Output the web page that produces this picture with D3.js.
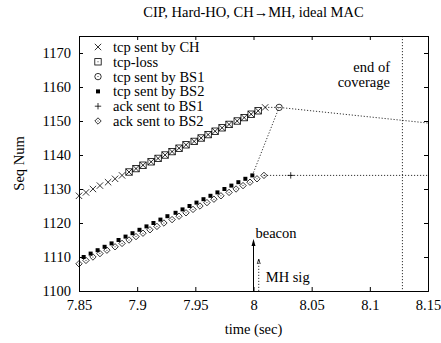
<!DOCTYPE html>
<html>
<head>
<meta charset="utf-8">
<script src="https://cdn.jsdelivr.net/npm/d3@7"></script>
<style>
  body { margin: 0; background: #fff; }
  svg text { font-family: "Liberation Serif", "DejaVu Serif", serif; font-size: 14.5px; fill: #000; }
</style>
</head>
<body>
<div id="chart"></div>
<script>
/* globals d3 */

// series: time (sec) and sequence number
var chTime = [7.850, 7.856, 7.862, 7.868, 7.875, 7.881, 7.887, 7.893, 7.899, 7.905, 7.912, 7.918, 7.924, 7.930,
  7.936, 7.942, 7.949, 7.955, 7.961, 7.967, 7.973, 7.979, 7.986, 7.992, 7.998, 8.004, 8.010];
var chSeq = [1128, 1129, 1130, 1131, 1132, 1133, 1134, 1135, 1136, 1137, 1138, 1139, 1140, 1141,
  1142, 1143, 1144, 1145, 1146, 1147, 1148, 1149, 1150, 1151, 1152, 1153, 1154];

var lossTime = [7.893, 7.899, 7.905, 7.912, 7.918, 7.924, 7.930, 7.936, 7.942, 7.949, 7.955, 7.961, 7.967,
  7.973, 7.979, 7.986, 7.992, 7.998, 8.004];
var lossSeq = [1135, 1136, 1137, 1138, 1139, 1140, 1141, 1142, 1143, 1144, 1145, 1146, 1147,
  1148, 1149, 1150, 1151, 1152, 1153];

var bs1Time = [8.022];
var bs1Seq = [1154];

var bs2Time = [7.854, 7.860, 7.866, 7.872, 7.878, 7.884, 7.890, 7.896, 7.902, 7.908, 7.914, 7.920, 7.926,
  7.933, 7.939, 7.945, 7.951, 7.957, 7.963, 7.969, 7.975, 7.981, 7.987, 7.993, 7.999];
var bs2Seq = [1110, 1111, 1112, 1113, 1114, 1115, 1116, 1117, 1118, 1119, 1120, 1121, 1122,
  1123, 1124, 1125, 1126, 1127, 1128, 1129, 1130, 1131, 1132, 1133, 1134];

var ackBs1Time = [8.032];
var ackBs1Seq = [1134];

var ackBs2Time = [7.850, 7.856, 7.862, 7.868, 7.874, 7.881, 7.887, 7.893, 7.899, 7.905, 7.911, 7.917, 7.923,
  7.930, 7.936, 7.942, 7.948, 7.954, 7.960, 7.966, 7.972, 7.979, 7.985, 7.991, 7.997, 8.003, 8.009];
var ackBs2Seq = [1108, 1109, 1110, 1111, 1112, 1113, 1114, 1115, 1116, 1117, 1118, 1119, 1120,
  1121, 1122, 1123, 1124, 1125, 1126, 1127, 1128, 1129, 1130, 1131, 1132, 1133, 1134];

// dotted connector paths
var linkBs2Bs1 = [[7.999, 1134], [8.022, 1154]];
var linkBs1 = [[8.010, 1154], [8.022, 1154], [8.15, 1149.4]];
var linkAck = [[8.009, 1134], [8.032, 1134], [8.15, 1134]];

var endOfCoverage = 8.128;
var beacon = { t: 8.0, seq: 1115.3 };
var mhSig = { t: 8.0045, seq: 1109.4 };

var xTicks = [7.85, 7.9, 7.95, 8, 8.05, 8.1, 8.15];
var yTicks = [1100, 1110, 1120, 1130, 1140, 1150, 1160, 1170];

var legendLabels = ['tcp sent by CH', 'tcp-loss', 'tcp sent by BS1', 'tcp sent by BS2', 'ack sent to BS1', 'ack sent to BS2'];
var legendShapes = ['cross', 'square', 'circle', 'filled', 'plus', 'diamond'];

(function() {
  var width = 441, height = 343;
  var margin = { top: 36, right: 13, bottom: 52, left: 79 };
  var w = width - margin.left - margin.right,
    h = height - margin.top - margin.bottom;

  var svg = d3.select('#chart').append('svg')
    .attr('width', width)
    .attr('height', height);

  var x = d3.scaleLinear().domain([7.85, 8.15]).range([0, w]);
  var y = d3.scaleLinear().domain([1100, 1175]).range([h, 0]);

  svg.append('text')
    .attr('x', margin.left + w / 2)
    .attr('y', 17)
    .attr('text-anchor', 'middle')
    .text('CIP, Hard-HO, CH\u2192MH, ideal MAC');

  var g = svg.append('g').attr('transform', 'translate(' + margin.left + ',' + margin.top + ')');

  // axes, ticks inward on all four sides
  var fmt = function(d) { return String(d); };
  var tick = 4;
  g.append('g').attr('transform', 'translate(0,' + h + ')')
    .call(d3.axisBottom(x).tickValues(xTicks).tickSize(-tick).tickPadding(9).tickFormat(fmt));
  g.append('g')
    .call(d3.axisTop(x).tickValues(xTicks).tickSize(-tick).tickFormat(''));
  g.append('g')
    .call(d3.axisLeft(y).tickValues(yTicks).tickSize(-tick).tickPadding(8).tickFormat(fmt));
  g.append('g').attr('transform', 'translate(' + w + ',0)')
    .call(d3.axisRight(y).tickValues(yTicks).tickSize(-tick).tickFormat(''));
  g.selectAll('.domain').attr('stroke', '#000');
  g.selectAll('.tick line').attr('stroke', '#000');
  g.selectAll('.tick text').style('font-family', '"Liberation Serif", serif').style('font-size', '14.5px');

  svg.append('text')
    .attr('x', margin.left + w / 2)
    .attr('y', 334)
    .attr('text-anchor', 'middle')
    .text('time (sec)');
  svg.append('text')
    .attr('transform', 'translate(24,' + (margin.top + h / 2) + ') rotate(-90)')
    .attr('text-anchor', 'middle')
    .text('Seq Num');

  // end of coverage marker
  g.append('line')
    .attr('x1', x(endOfCoverage)).attr('x2', x(endOfCoverage))
    .attr('y1', 0).attr('y2', h)
    .attr('stroke', '#000').attr('stroke-width', 0.8).attr('stroke-dasharray', '1.2,1.8');
  var eoc = g.append('text').attr('text-anchor', 'end');
  eoc.append('tspan').attr('x', 311).attr('y', 36).text('end of');
  eoc.append('tspan').attr('x', 311).attr('y', 51).text('coverage');

  var line = d3.line().x(function(d) { return x(d[0]); }).y(function(d) { return y(d[1]); });
  [linkBs2Bs1, linkBs1, linkAck].forEach(function(pts) {
    g.append('path').attr('d', line(pts))
      .attr('fill', 'none').attr('stroke', '#000').attr('stroke-width', 0.8)
      .attr('stroke-dasharray', '1.2,1.8');
  });

  // markers
  var s = 3.2;
  var drawMarker = function(sel, shape, cx, cy) {
    var m = sel.append('g').attr('transform', 'translate(' + cx + ',' + cy + ')')
      .attr('stroke', '#000').attr('stroke-width', 0.8).attr('fill', 'none');
    if (shape === 'cross') {
      m.append('path').attr('d', 'M' + -s + ',' + -s + 'L' + s + ',' + s + 'M' + -s + ',' + s + 'L' + s + ',' + -s);
    } else if (shape === 'plus') {
      m.append('path').attr('d', 'M' + -s + ',0L' + s + ',0M0,' + -s + 'L0,' + s);
    } else if (shape === 'square') {
      m.append('rect').attr('x', -s).attr('y', -s).attr('width', 2 * s).attr('height', 2 * s);
      m.append('circle').attr('r', 0.5).attr('fill', '#000').attr('stroke', 'none');
    } else if (shape === 'circle') {
      m.append('circle').attr('r', s);
      m.append('circle').attr('r', 0.5).attr('fill', '#000').attr('stroke', 'none');
    } else if (shape === 'diamond') {
      m.append('path').attr('d', 'M0,' + -s + 'L' + s + ',0L0,' + s + 'L' + -s + ',0Z');
      m.append('circle').attr('r', 0.5).attr('fill', '#000').attr('stroke', 'none');
    } else if (shape === 'filled') {
      m.append('rect').attr('x', -2).attr('y', -2).attr('width', 4).attr('height', 4)
        .attr('fill', '#000').attr('stroke', 'none');
    }
  };

  var plotSeries = function(ts, seqs, shape) {
    var layer = g.append('g');
    ts.forEach(function(t, i) {
      drawMarker(layer, shape, x(t), y(seqs[i]));
    });
  };
  plotSeries(ackBs2Time, ackBs2Seq, 'diamond');
  plotSeries(bs2Time, bs2Seq, 'filled');
  plotSeries(lossTime, lossSeq, 'square');
  plotSeries(chTime, chSeq, 'cross');
  plotSeries(bs1Time, bs1Seq, 'circle');
  plotSeries(ackBs1Time, ackBs1Seq, 'plus');

  // legend
  var legend = g.append('g');
  legendLabels.forEach(function(label, i) {
    var ly = 11 + i * 14.8;
    drawMarker(legend, legendShapes[i], 19, ly);
    legend.append('text').attr('x', 34).attr('y', ly + 5).text(label);
  });

  // beacon and MH sig arrows
  g.append('line')
    .attr('x1', x(beacon.t)).attr('x2', x(beacon.t))
    .attr('y1', h).attr('y2', y(beacon.seq) + 2)
    .attr('stroke', '#000').attr('stroke-width', 1);
  g.append('path')
    .attr('d', 'M' + x(beacon.t) + ',' + y(beacon.seq) + 'l-2,7l4,0Z')
    .attr('fill', '#000');
  g.append('text').attr('x', x(beacon.t) + 2).attr('y', y(beacon.seq) - 1).text('beacon');

  g.append('line')
    .attr('x1', x(mhSig.t)).attr('x2', x(mhSig.t))
    .attr('y1', h).attr('y2', y(mhSig.seq))
    .attr('stroke', '#000').attr('stroke-width', 0.8).attr('stroke-dasharray', '1.2,1.8');
  g.append('path')
    .attr('d', 'M' + (x(mhSig.t) - 1.5) + ',' + (y(mhSig.seq) + 5) + 'l1.5,-5l1.5,5')
    .attr('fill', 'none').attr('stroke', '#000').attr('stroke-width', 0.8);
  g.append('text').attr('x', x(mhSig.t) + 7).attr('y', 246).text('MH sig');
})();
</script>
</body>
</html>
